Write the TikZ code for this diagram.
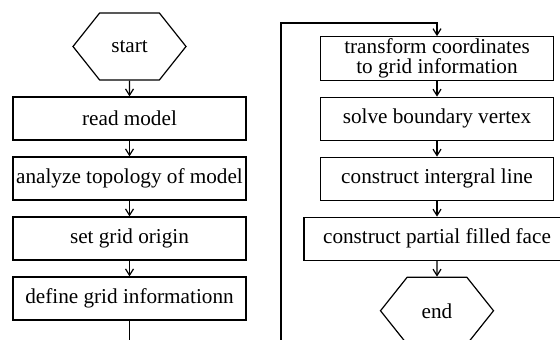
\documentclass[tikz,border=0pt]{standalone}
\usepackage{fontspec}
\setmainfont{Liberation Serif}
\usetikzlibrary{positioning,shapes.symbols,arrows.meta}

\begin{document}
\begin{tikzpicture}[x=0.5pt,y=-0.5pt,line width=0.6pt,
                    node distance=7.9pt,
                    box/.style={draw,minimum width=116.5pt,minimum height=21.5pt,
                                inner sep=1pt,align=center,
                                font=\fontsize{10.6}{10}\selectfont},
                    term/.style={draw,signal,signal to=west and east,
                                 signal pointer angle=103,inner sep=1pt,
                                 minimum width=56.5pt,minimum height=33.5pt,
                                 font=\fontsize{10.6}{10}\selectfont},
                    flow/.style={-{Straight Barb[length=3.2pt,width=4pt]}}]
  \useasboundingbox (0,0) rectangle (560,340);
  \clip (0,0) rectangle (560,340);

  % First column
  \node[term] (start) at (129.5,46.5) {start};
  \node[box,below=of start] (read) {read model};
  \node[box,below=of read] (topo) {analyze topology of model};
  \node[box,below=of topo] (origin) {set grid origin};
  \node[box,below=of origin] (define) {define grid informationn};

  % Second column
  \node[box] (trans) at (437,58.5) {transform coordinates\\to grid information};
  \node[box,below=of trans] (solve) {solve boundary vertex};
  \node[box,below=of solve] (line) {construct intergral line};
  \node[box,minimum width=133pt,below=of line] (face) {construct partial filled face};
  \node[term,below=of face] (end) {end};

  \draw[flow] (start) -- (read);
  \draw[flow] (read) -- (topo);
  \draw[flow] (topo) -- (origin);
  \draw[flow] (origin) -- (define);

  \coordinate (out) at (129.5,350);
  \coordinate (back) at (281,350);
  \coordinate (turn) at (281,23);
  \draw (define) -- (out);
  \draw[flow] (back) -- (turn) -| (trans.north);

  \draw[flow] (trans) -- (solve);
  \draw[flow] (solve) -- (line);
  \draw[flow] (line) -- (face);
  \draw[flow] (face) -- (end);
\end{tikzpicture}
\end{document}
